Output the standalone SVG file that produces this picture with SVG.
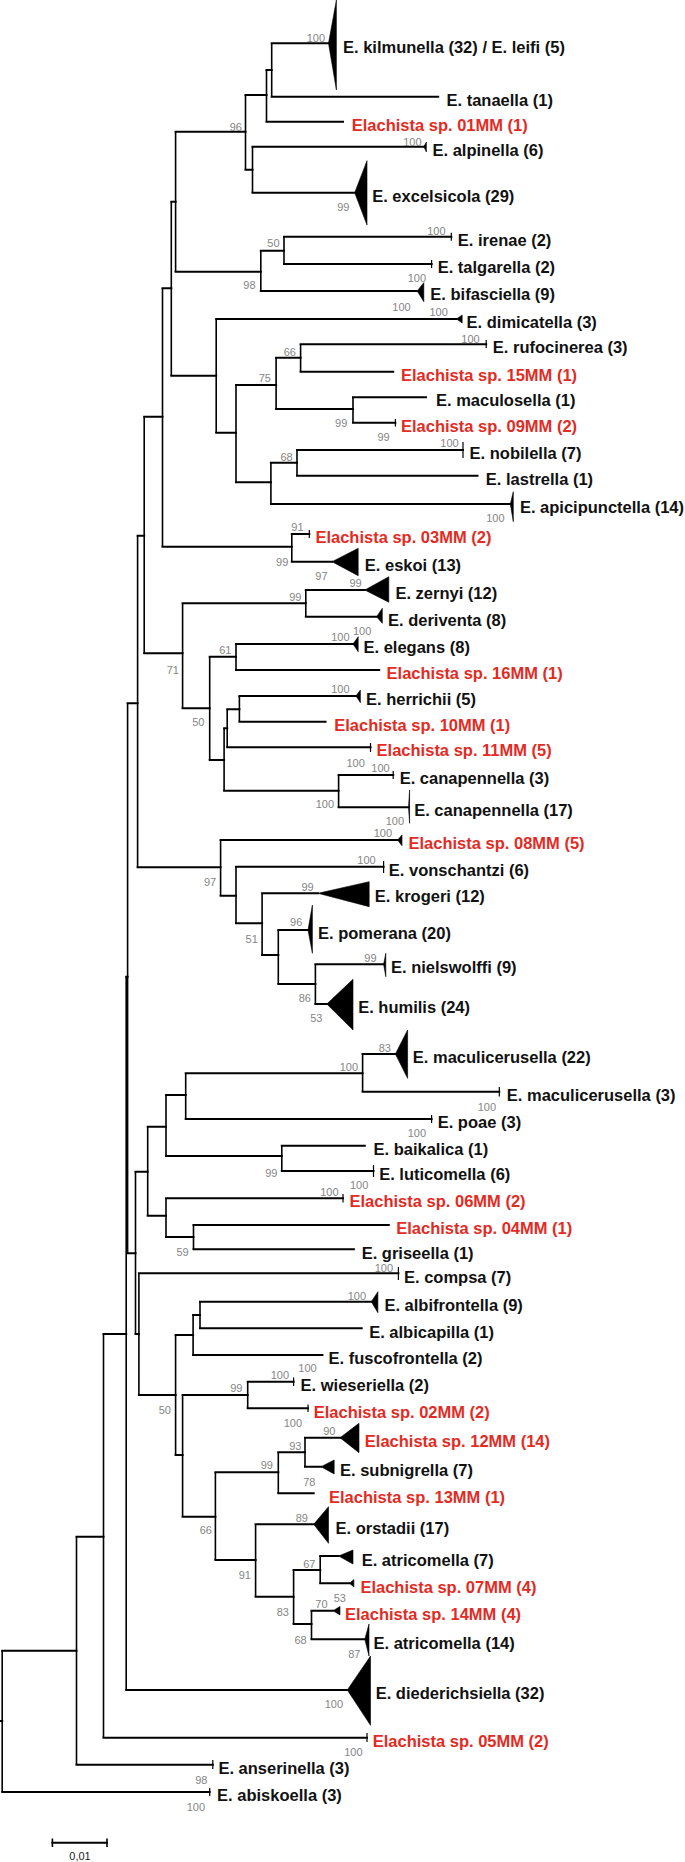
<svg xmlns="http://www.w3.org/2000/svg" width="685" height="1862" viewBox="0 0 685 1862">
<style>
.br{fill:none;stroke:#000;stroke-width:2;stroke-linecap:square}
.vt{fill:none;stroke:#000;stroke-width:1.6}
.tk{fill:none;stroke:#000;stroke-width:1.2}
.tri{fill:#000;stroke:#000;stroke-width:0.6}
.lb{font-family:"Liberation Sans",Arial,sans-serif;font-weight:bold;font-size:16.5px;fill:#111}
.rd{fill:#e32b24}
.bs{font-family:"Liberation Sans",Arial,sans-serif;font-size:11px;fill:#858585;text-anchor:end}
.sc{font-family:"Liberation Sans",Arial,sans-serif;font-size:11px;fill:#222;text-anchor:middle}
</style>
<rect width="685" height="1862" fill="#fff"/>
<g id="connectors">
<path class="br" d="M0 1721H2.2M2.2 1650.7H76.5M2.2 1792H209.7M76.5 1536.7H103.5M76.5 1764.7H212.8M103.5 1334H126.2M103.5 1737.7H367M126.2 976.7H127.6M126.2 1690H347.3M127.6 703.3H137.6M127.6 1253.3H135.5M137.6 535.7H144.2M137.6 867.3H220.6M144.2 416.7H162.5M144.2 653.3H182.6M162.5 288.3H171.3M162.5 546.7H291.8M171.3 201.7H175.6M171.3 375.7H216.2M175.6 131.7H245.5M175.6 271.7H260.8M245.5 95H266.5M245.5 169.7H252.5M266.5 70H271.7M266.5 121.7H343M271.7 43.3H328.5M271.7 96.7H438.2M252.5 146.7H423.8M252.5 192.7H354.7M260.8 250.7H284M260.8 291H417.2M284 236.7H451.3M284 264H431.6M216.2 319H456.5M216.2 432.7H236M236 385H276.1M236 482.3H270.9M276.1 357.7H300.6M276.1 409H353M300.6 344.3H486.2M300.6 371.7H393.2M353 397.3H426M353 422.7H395.4M270.9 462.7H297M270.9 504H510.3M297 450H463M297 475.7H477.5M291.8 534H309.3M291.8 561.7H332M182.6 603.3H305.8M182.6 708.3H209.7M305.8 590H364.8M305.8 616.7H376.6M209.7 656.7H236M209.7 760H224.1M236 644H353M236 670H379.2M224.1 728.3H227.2M224.1 790.7H338.6M227.2 709.3H239.4M227.2 747.3H370.5M239.4 696H356M239.4 721.7H325.5M338.6 775H393.2M338.6 807.3H408.5M220.6 840H397.6M220.6 895.7H236M236 866.7H383.6M236 923.3H262.1M262.1 893.3H318M262.1 955H278.3M278.3 930H308M278.3 984H315.4M315.4 964.3H383.6M315.4 1004H326.8M135.5 1171.7H147.7M135.5 1334H138.9M147.7 1126.7H166M147.7 1215.7H166M166 1095H185.7M166 1156H281.8M185.7 1073.3H362.6M185.7 1119H431.6M362.6 1054H395.4M362.6 1091.7H499.3M281.8 1145.7H364.8M281.8 1171H373.5M166 1198.3H343M166 1237H193.5M193.5 1225H388.8M193.5 1249.3H353.9M138.9 1273.3H398.4M138.9 1395H175.6M175.6 1335H193.1M175.6 1455H182.6M193.1 1315H200M193.1 1355H322.4M200 1301.7H371.3M200 1328.3H361.7M182.6 1395H247.7M182.6 1516.7H215.4M247.7 1381.7H293.6M247.7 1408.3H308M215.4 1472.3H278.3M215.4 1560H255.6M278.3 1452.3H305M278.3 1493.3H313.7M305 1437.7H340M305 1466.7H321M255.6 1524.3H313.7M255.6 1596.7H293.6M293.6 1570H320.2M293.6 1624H311.5M320.2 1556H338.6M320.2 1583.3H349.5M311.5 1610.7H333M311.5 1639.3H364.8"/>
<path class="vt" d="M2.2 1650.7V1792M76.5 1536.7V1764.7M103.5 1334V1737.7M126.2 976.7V1690M127.6 703.3V1253.3M137.6 535.7V867.3M144.2 416.7V653.3M162.5 288.3V546.7M171.3 201.7V375.7M175.6 131.7V271.7M245.5 95V169.7M266.5 70V121.7M271.7 43.3V96.7M252.5 146.7V192.7M260.8 250.7V291M284 236.7V264M216.2 319V432.7M236 385V482.3M276.1 357.7V409M300.6 344.3V371.7M353 397.3V422.7M270.9 462.7V504M297 450V475.7M291.8 534V561.7M182.6 603.3V708.3M305.8 590V616.7M209.7 656.7V760M236 644V670M224.1 728.3V790.7M227.2 709.3V747.3M239.4 696V721.7M338.6 775V807.3M220.6 840V895.7M236 866.7V923.3M262.1 893.3V955M278.3 930V984M315.4 964.3V1004M135.5 1171.7V1334M147.7 1126.7V1215.7M166 1095V1156M185.7 1073.3V1119M362.6 1054V1091.7M281.8 1145.7V1171M166 1198.3V1237M193.5 1225V1249.3M138.9 1273.3V1395M175.6 1335V1455M193.1 1315V1355M200 1301.7V1328.3M182.6 1395V1516.7M247.7 1381.7V1408.3M215.4 1472.3V1560M278.3 1452.3V1493.3M305 1437.7V1466.7M255.6 1524.3V1596.7M293.6 1570V1624M320.2 1556V1583.3M311.5 1610.7V1639.3"/>
</g>
<g id="support">
<text class="bs" x="325" y="41.5">100</text>
<text class="bs" x="242" y="130.7">96</text>
<text class="bs" x="421.6" y="145.7">100</text>
<text class="bs" x="349.5" y="211">99</text>
<text class="bs" x="445.6" y="235">100</text>
<text class="bs" x="279.6" y="247.3">50</text>
<text class="bs" x="426" y="282.3">100</text>
<text class="bs" x="255.6" y="289">98</text>
<text class="bs" x="410.7" y="310.7">100</text>
<text class="bs" x="447.8" y="315.5">100</text>
<text class="bs" x="479.7" y="343.3">100</text>
<text class="bs" x="296" y="355.7">66</text>
<text class="bs" x="270.9" y="382.3">75</text>
<text class="bs" x="347.3" y="427.3">99</text>
<text class="bs" x="389.7" y="440.7">99</text>
<text class="bs" x="458.7" y="447.3">100</text>
<text class="bs" x="292.7" y="460.7">68</text>
<text class="bs" x="504.6" y="521.7">100</text>
<text class="bs" x="303.6" y="530.7">91</text>
<text class="bs" x="288.3" y="565.7">99</text>
<text class="bs" x="327.6" y="579.7">97</text>
<text class="bs" x="361.7" y="587.3">99</text>
<text class="bs" x="301.4" y="600.7">99</text>
<text class="bs" x="371.3" y="634.7">100</text>
<text class="bs" x="349.5" y="640.7">100</text>
<text class="bs" x="231.5" y="654">61</text>
<text class="bs" x="179" y="674">71</text>
<text class="bs" x="349.5" y="693.3">100</text>
<text class="bs" x="204.5" y="725.7">50</text>
<text class="bs" x="364.8" y="766.7">100</text>
<text class="bs" x="389.7" y="772.3">100</text>
<text class="bs" x="334" y="808.3">100</text>
<text class="bs" x="404" y="825">100</text>
<text class="bs" x="392" y="837.3">100</text>
<text class="bs" x="375.7" y="864">100</text>
<text class="bs" x="216.2" y="885.7">97</text>
<text class="bs" x="313.7" y="890.7">99</text>
<text class="bs" x="302.3" y="925.7">96</text>
<text class="bs" x="257.8" y="943.3">51</text>
<text class="bs" x="376.6" y="962.3">99</text>
<text class="bs" x="311" y="1002.3">86</text>
<text class="bs" x="322.4" y="1022.3">53</text>
<text class="bs" x="391" y="1052">83</text>
<text class="bs" x="358" y="1070.7">100</text>
<text class="bs" x="496" y="1110.7">100</text>
<text class="bs" x="426" y="1137.3">100</text>
<text class="bs" x="277.4" y="1177.3">99</text>
<text class="bs" x="368.3" y="1189">100</text>
<text class="bs" x="338.6" y="1195.7">100</text>
<text class="bs" x="188.7" y="1255.7">59</text>
<text class="bs" x="393" y="1272">100</text>
<text class="bs" x="366" y="1300">100</text>
<text class="bs" x="316.7" y="1372">100</text>
<text class="bs" x="289" y="1379">100</text>
<text class="bs" x="242.5" y="1392">99</text>
<text class="bs" x="171" y="1414">50</text>
<text class="bs" x="302" y="1427">100</text>
<text class="bs" x="335.5" y="1435">90</text>
<text class="bs" x="301.4" y="1449.7">93</text>
<text class="bs" x="273" y="1469">99</text>
<text class="bs" x="315.4" y="1486">78</text>
<text class="bs" x="308" y="1521.7">89</text>
<text class="bs" x="212" y="1534">66</text>
<text class="bs" x="315.4" y="1568">67</text>
<text class="bs" x="251" y="1579">91</text>
<text class="bs" x="346" y="1602.3">53</text>
<text class="bs" x="327.6" y="1608">70</text>
<text class="bs" x="289" y="1615.7">83</text>
<text class="bs" x="306.7" y="1644">68</text>
<text class="bs" x="360.4" y="1658">87</text>
<text class="bs" x="343" y="1708">100</text>
<text class="bs" x="362.6" y="1756">100</text>
<text class="bs" x="207.5" y="1783.7">98</text>
<text class="bs" x="205" y="1811">100</text>
</g>
<g id="kilmunella"><polygon class="tri" points="328.5,43.3 336.4,0 336.4,90"/><text class="lb" x="343" y="52.5">E. kilmunella (32) / E. leifi (5)</text></g>
<g id="tanaella"><text class="lb" x="446.5" y="106">E. tanaella (1)</text></g>
<g id="sp01MM"><text class="lb rd" x="351.7" y="131">Elachista sp. 01MM (1)</text></g>
<g id="alpinella"><polygon class="tri" points="423.8,146.7 426.4,142 426.4,152"/><text class="lb" x="432.5" y="156">E. alpinella (6)</text></g>
<g id="excelsicola"><polygon class="tri" points="354.7,192.7 367,160.7 367,225"/><text class="lb" x="372.2" y="201.7">E. excelsicola (29)</text></g>
<g id="irenae"><path class="tk" d="M451.3 232.7V240.7"/><text class="lb" x="457.8" y="245.7">E. irenae (2)</text></g>
<g id="talgarella"><path class="tk" d="M431.6 260V268"/><text class="lb" x="437.7" y="273">E. talgarella (2)</text></g>
<g id="bifasciella"><polygon class="tri" points="417.2,291 423.8,282.7 423.8,301.7"/><text class="lb" x="430.3" y="300">E. bifasciella (9)</text></g>
<g id="dimicatella"><polygon class="tri" points="456.5,319 462.2,315 462.2,323"/><text class="lb" x="466.6" y="328">E. dimicatella (3)</text></g>
<g id="rufocinerea"><path class="tk" d="M486.2 340V348"/><text class="lb" x="492.8" y="353.3">E. rufocinerea (3)</text></g>
<g id="sp15MM"><text class="lb rd" x="401" y="381">Elachista sp. 15MM (1)</text></g>
<g id="maculosella"><text class="lb" x="436" y="406.3">E. maculosella (1)</text></g>
<g id="sp09MM"><path class="tk" d="M395.4 419V426.5"/><text class="lb rd" x="401" y="432">Elachista sp. 09MM (2)</text></g>
<g id="nobilella"><path class="tk" d="M463 442V458"/><text class="lb" x="469.6" y="459">E. nobilella (7)</text></g>
<g id="lastrella"><text class="lb" x="485.8" y="485">E. lastrella (1)</text></g>
<g id="apicipunctella"><polygon class="tri" points="510.3,504 513.3,491.7 513.3,521.7"/><text class="lb" x="519.9" y="513.3">E. apicipunctella (14)</text></g>
<g id="sp03MM"><path class="tk" d="M309.3 530V538"/><text class="lb rd" x="315.4" y="543">Elachista sp. 03MM (2)</text></g>
<g id="eskoi"><polygon class="tri" points="332,561.7 358.2,548.3 358.2,575.7"/><text class="lb" x="364.8" y="570.7">E. eskoi (13)</text></g>
<g id="zernyi"><polygon class="tri" points="364.8,590 388.8,576.7 388.8,602.3"/><text class="lb" x="395.4" y="599">E. zernyi (12)</text></g>
<g id="deriventa"><polygon class="tri" points="376.6,616.7 382.3,608.3 382.3,623.3"/><text class="lb" x="388" y="625.7">E. deriventa (8)</text></g>
<g id="elegans"><polygon class="tri" points="353,644 358.2,636.7 358.2,651.7"/><text class="lb" x="363.5" y="653">E. elegans (8)</text></g>
<g id="sp16MM"><text class="lb rd" x="386.6" y="679">Elachista sp. 16MM (1)</text></g>
<g id="herrichii"><polygon class="tri" points="356,696 360.4,690 360.4,702.7"/><text class="lb" x="366" y="705">E. herrichii (5)</text></g>
<g id="sp10MM"><text class="lb rd" x="334.2" y="731">Elachista sp. 10MM (1)</text></g>
<g id="sp11MM"><path class="tk" d="M370.5 743V752"/><text class="lb rd" x="376.6" y="756.3">Elachista sp. 11MM (5)</text></g>
<g id="canapennella3"><path class="tk" d="M393.2 771V779"/><text class="lb" x="399.7" y="784">E. canapennella (3)</text></g>
<g id="canapennella17"><polygon class="tri" points="408.5,807.3 409.6,790 409.6,823.3"/><text class="lb" x="414.2" y="816.3">E. canapennella (17)</text></g>
<g id="sp08MM"><polygon class="tri" points="397.6,840 402,835 402,845.7"/><text class="lb rd" x="408.5" y="849">Elachista sp. 08MM (5)</text></g>
<g id="vonschantzi"><path class="tk" d="M383.6 861V873"/><text class="lb" x="388.8" y="876">E. vonschantzi (6)</text></g>
<g id="krogeri"><polygon class="tri" points="318,893.3 369.2,881.7 369.2,906.7"/><text class="lb" x="374.8" y="902.3">E. krogeri (12)</text></g>
<g id="pomerana"><polygon class="tri" points="308,930 312.4,905 312.4,953.3"/><text class="lb" x="318" y="939">E. pomerana (20)</text></g>
<g id="nielswolffi"><polygon class="tri" points="383.6,964.3 385.8,953.3 385.8,976.7"/><text class="lb" x="391" y="973.3">E. nielswolffi (9)</text></g>
<g id="humilis"><polygon class="tri" points="326.8,1004 353,979.3 353,1030"/><text class="lb" x="358.2" y="1013">E. humilis (24)</text></g>
<g id="maculicerusella22"><polygon class="tri" points="395.4,1054 407.6,1030 407.6,1078.3"/><text class="lb" x="412.8" y="1063">E. maculicerusella (22)</text></g>
<g id="maculicerusella3"><path class="tk" d="M499.3 1087V1096.5"/><text class="lb" x="506.8" y="1100.7">E. maculicerusella (3)</text></g>
<g id="poae"><path class="tk" d="M431.6 1115V1123"/><text class="lb" x="437.7" y="1128">E. poae (3)</text></g>
<g id="baikalica"><text class="lb" x="373.5" y="1155">E. baikalica (1)</text></g>
<g id="luticomella"><path class="tk" d="M373.5 1165V1177"/><text class="lb" x="379.2" y="1180">E. luticomella (6)</text></g>
<g id="sp06MM"><path class="tk" d="M343 1194V1202.5"/><text class="lb rd" x="349.5" y="1207.3">Elachista sp. 06MM (2)</text></g>
<g id="sp04MM"><text class="lb rd" x="396.2" y="1234">Elachista sp. 04MM (1)</text></g>
<g id="griseella"><text class="lb" x="361.7" y="1258.5">E. griseella (1)</text></g>
<g id="compsa"><path class="tk" d="M398.4 1267V1280"/><text class="lb" x="404" y="1282.5">E. compsa (7)</text></g>
<g id="albifrontella"><polygon class="tri" points="371.3,1301.7 377.9,1291.7 377.9,1312.7"/><text class="lb" x="384.4" y="1311">E. albifrontella (9)</text></g>
<g id="albicapilla"><text class="lb" x="369.2" y="1337.5">E. albicapilla (1)</text></g>
<g id="fuscofrontella"><text class="lb" x="328.5" y="1364">E. fuscofrontella (2)</text></g>
<g id="wieseriella"><path class="tk" d="M293.6 1377.5V1386"/><text class="lb" x="300.6" y="1391">E. wieseriella (2)</text></g>
<g id="sp02MM"><path class="tk" d="M308 1404.5V1412"/><text class="lb rd" x="313.7" y="1417.5">Elachista sp. 02MM (2)</text></g>
<g id="sp12MM"><polygon class="tri" points="340,1437.7 359,1423.3 359,1452.7"/><text class="lb rd" x="364.8" y="1447">Elachista sp. 12MM (14)</text></g>
<g id="subnigrella"><polygon class="tri" points="321,1466.7 334.2,1460 334.2,1474"/><text class="lb" x="340" y="1476">E. subnigrella (7)</text></g>
<g id="sp13MM"><text class="lb rd" x="329" y="1502.5">Elachista sp. 13MM (1)</text></g>
<g id="orstadii"><polygon class="tri" points="313.7,1524.3 328.5,1506.7 328.5,1543.3"/><text class="lb" x="335.5" y="1533.5">E. orstadii (17)</text></g>
<g id="atricomella7"><polygon class="tri" points="338.6,1556 353,1550 353,1564"/><text class="lb" x="361.7" y="1565.5">E. atricomella (7)</text></g>
<g id="sp07MM"><polygon class="tri" points="349.5,1583.3 353.9,1579.5 353.9,1587"/><text class="lb rd" x="360.4" y="1592.5">Elachista sp. 07MM (4)</text></g>
<g id="sp14MM"><polygon class="tri" points="333,1610.7 340,1606.5 340,1615"/><text class="lb rd" x="345" y="1620">Elachista sp. 14MM (4)</text></g>
<g id="atricomella14"><polygon class="tri" points="364.8,1639.3 369,1624 369,1656"/><text class="lb" x="373.5" y="1648.5">E. atricomella (14)</text></g>
<g id="diederichsiella"><polygon class="tri" points="347.3,1690 370.5,1656 370.5,1725.3"/><text class="lb" x="375.7" y="1699">E. diederichsiella (32)</text></g>
<g id="sp05MM"><path class="tk" d="M367 1733V1742"/><text class="lb rd" x="372.7" y="1747">Elachista sp. 05MM (2)</text></g>
<g id="anserinella"><path class="tk" d="M212.8 1760V1769"/><text class="lb" x="218.4" y="1774">E. anserinella (3)</text></g>
<g id="abiskoella"><path class="tk" d="M209.7 1788V1796"/><text class="lb" x="217.1" y="1801">E. abiskoella (3)</text></g>
<g id="scalebar"><path class="br" d="M52.4 1842.7H107"/><path class="vt" d="M52.4 1838.5V1847M107 1838.5V1847"/><text class="sc" x="80" y="1860">0,01</text></g>
</svg>
